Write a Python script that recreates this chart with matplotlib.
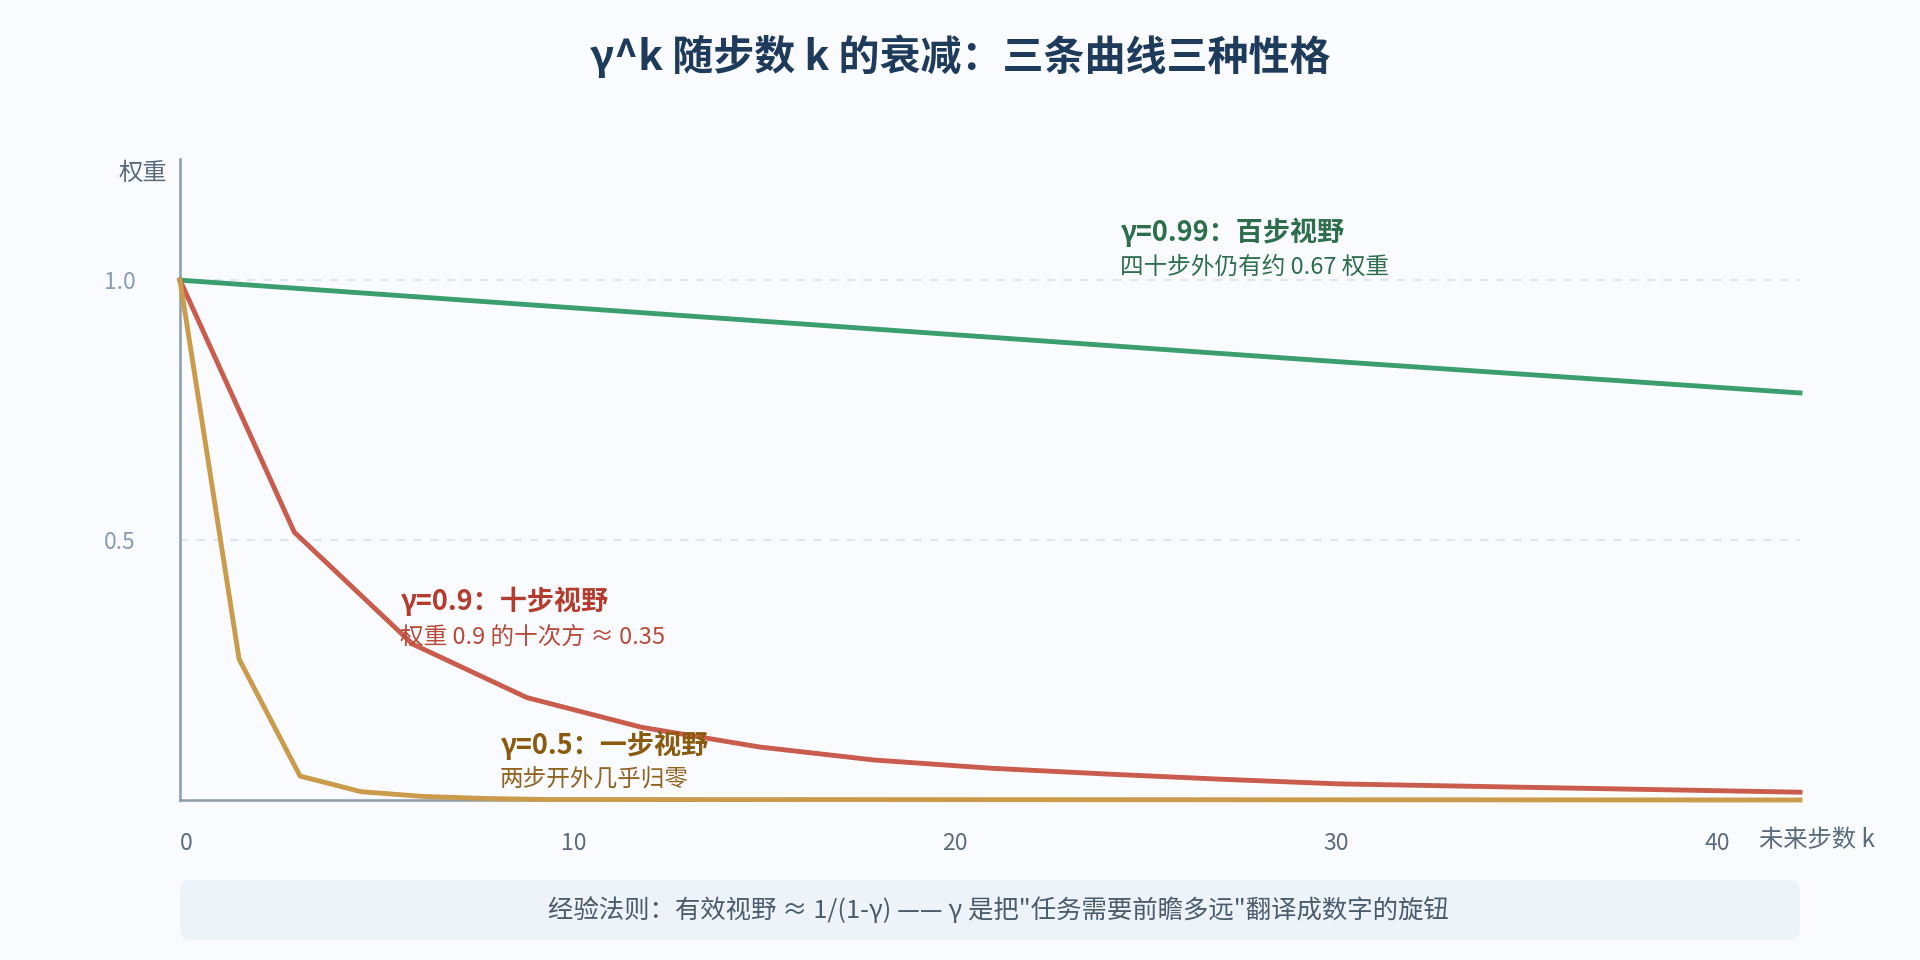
import matplotlib
matplotlib.use('Agg')
from matplotlib import pyplot as plt
from matplotlib.patches import FancyBboxPatch

plt.rcParams['font.family'] = ['Noto Sans CJK SC', 'DejaVu Sans']

# 读图得到的折线顶点 (k, 权重)
k_099 = [0, 29.8, 42.5]
w_099 = [1.0, 0.846, 0.783]

k_09 = [0, 3.0, 6.1, 9.1, 12.1, 15.2, 18.2, 21.3, 24.3, 27.3, 30.4, 33.4, 36.4, 39.5, 42.5]
w_09 = [1.0, 0.515, 0.300, 0.197, 0.140, 0.102, 0.077, 0.061, 0.050, 0.040, 0.031, 0.027, 0.023, 0.019, 0.015]

k_05 = [0, 1.55, 3.15, 4.75, 6.35, 7.95, 9.55, 42.5]
w_05 = [1.0, 0.271, 0.046, 0.016, 0.007, 0.003, 0.001, 0.0]

x_ticks = [0, 10, 20, 30, 40]
y_ticks = [0.5, 1.0]
y_tick_labels = ['0.5', '1.0']

title = 'γ^k 随步数 k 的衰减：三条曲线三种性格'
note = '经验法则：有效视野 ≈ 1/(1-γ) —— γ 是把"任务需要前瞻多远"翻译成数字的旋钮'

bg = '#f9fbfe'
axis_col = '#8d9bab'

fig = plt.figure(figsize=(19.2, 9.6), dpi=100, facecolor=bg)
ax = fig.add_axes([180 / 1920, 160 / 960, 1620 / 1920, 641 / 960])
ax.set_facecolor(bg)
ax.set_xlim(0, 42.5)
ax.set_ylim(0, 1.233)

for yv in y_ticks:
    ax.axhline(yv, color='#e1e6ee', lw=1.5, dashes=(4, 4), zorder=1)

ax.plot(k_099, w_099, color='#3a9e6e', lw=3.5, clip_on=False, zorder=4)
ax.plot(k_09, w_09, color='#c95c4c', lw=3.5, clip_on=False, zorder=4)
ax.plot(k_05, w_05, color='#c99b4b', lw=3.5, clip_on=False, zorder=5)

for s in ['top', 'right']:
    ax.spines[s].set_visible(False)
for s in ['left', 'bottom']:
    ax.spines[s].set_color(axis_col)
    ax.spines[s].set_linewidth(1.8)

ax.set_xticks(x_ticks)
ax.set_xticklabels([str(v) for v in x_ticks], ha='left', color='#5b6b7e', fontsize=16.5)
ax.set_yticks(y_ticks)
ax.set_yticklabels(y_tick_labels, color='#8a9cb0', fontsize=16.5)
ax.tick_params(axis='x', length=0, pad=23)
ax.tick_params(axis='y', length=0, pad=32)

fig.text(143 / 1920, 1 - 173 / 960, '权重', ha='center', va='center', fontsize=17.5, color='#5b6b7e')
fig.text(1817 / 1920, 1 - 840 / 960, '未来步数 k', ha='center', va='center', fontsize=17.5, color='#5b6b7e')

# 曲线注释
ax.text(24.66, 1.092, 'γ=0.99：百步视野', fontsize=19.5, fontweight='bold', color='#2d6e4c', va='center')
ax.text(24.66, 1.025, '四十步外仍有约 0.67 权重', fontsize=17, color='#2d6e4c', va='center')
ax.text(5.77, 0.383, 'γ=0.9：十步视野', fontsize=19.5, fontweight='bold', color='#b33c2e', va='center', zorder=6)
ax.text(5.77, 0.313, '权重 0.9 的十次方 ≈ 0.35', fontsize=17, color='#b84a3a', va='center', zorder=6)
ax.text(8.39, 0.105, 'γ=0.5：一步视野', fontsize=19.5, fontweight='bold', color='#8a5a0e', va='center', zorder=6)
ax.text(8.39, 0.041, '两步开外几乎归零', fontsize=17, color='#8f6420', va='center', zorder=6)

fig.text(0.5, 1 - 57 / 960, title, ha='center', va='center', fontsize=29.5, fontweight='bold', color='#1f3b5b')

box = FancyBboxPatch((180 / 1920, 1 - 940 / 960), 1620 / 1920, 60 / 960,
                     boxstyle='round,pad=0,rounding_size=0.006', transform=fig.transFigure,
                     facecolor='#eef3f9', edgecolor='none', mutation_aspect=2)
fig.patches.append(box)
fig.text(998 / 1920, 1 - 911 / 960, note, ha='center', va='center', fontsize=18.3, color='#4a5b6c')

fig.savefig('out.png', dpi=100, facecolor=bg)
